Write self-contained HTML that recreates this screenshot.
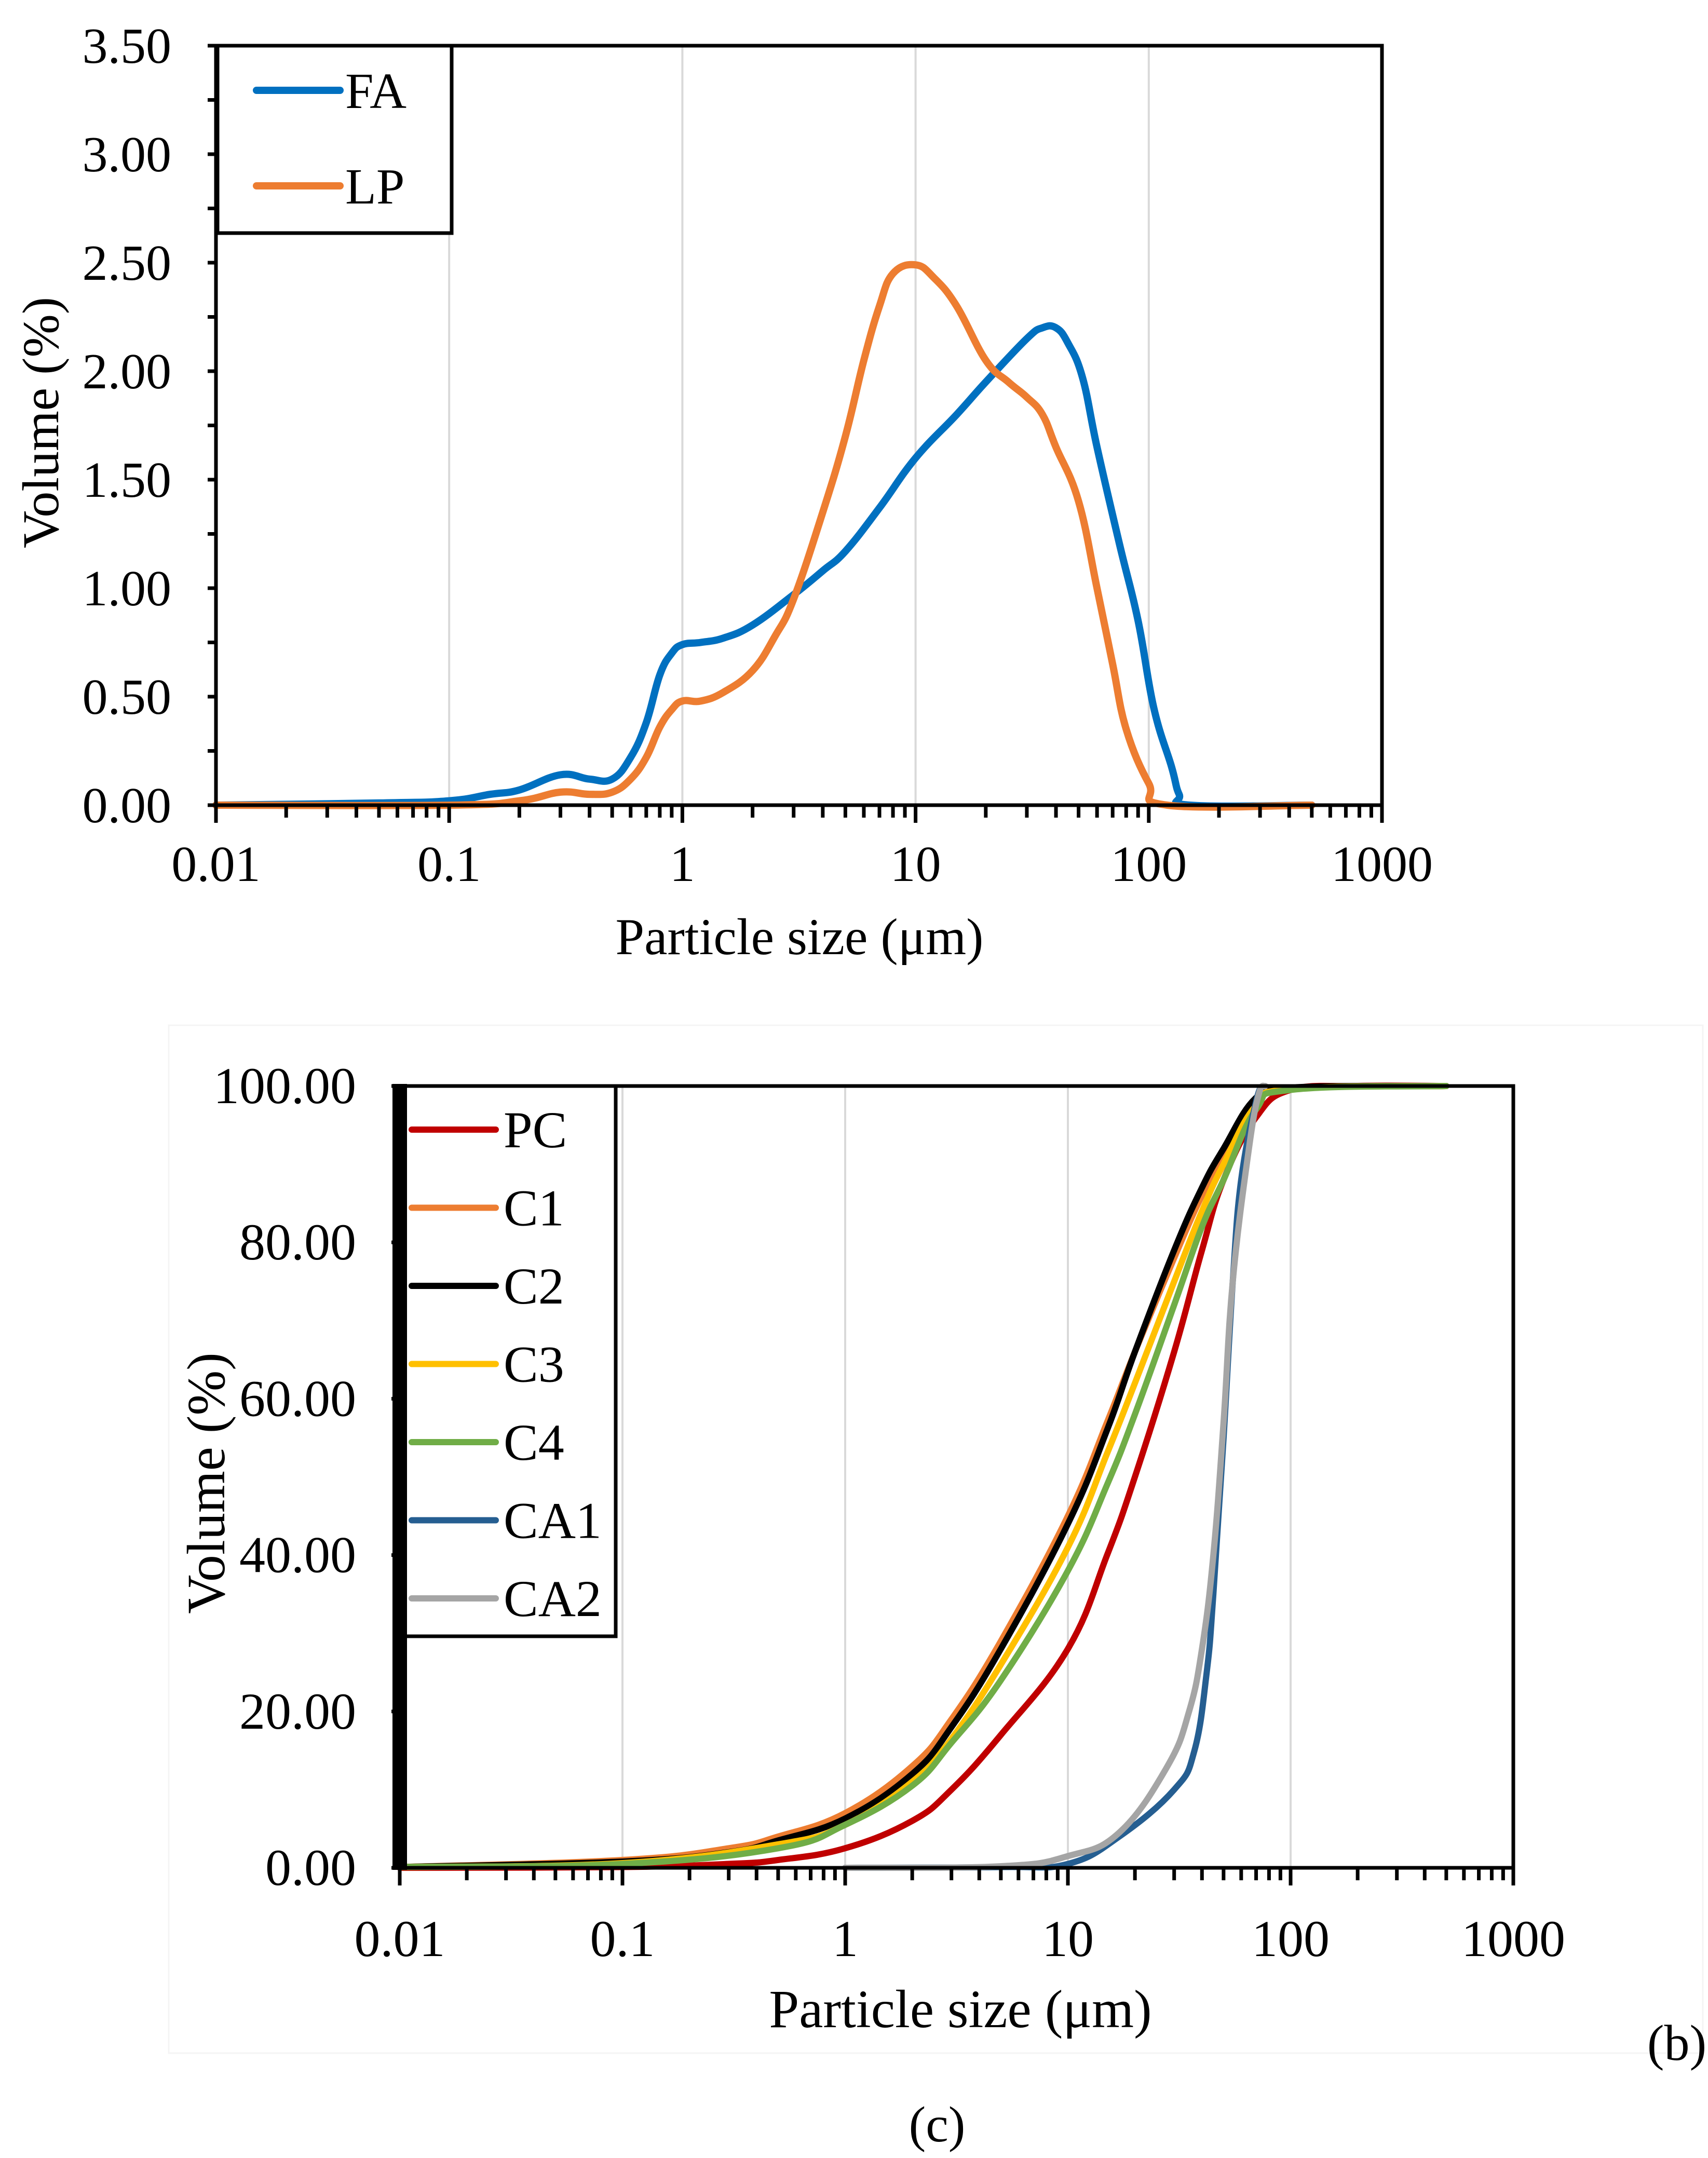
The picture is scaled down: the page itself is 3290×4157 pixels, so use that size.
<!DOCTYPE html>
<html><head><meta charset="utf-8"><style>
html,body{margin:0;padding:0;background:#fff;}
svg{display:block;font-family:"Liberation Serif",serif;}
</style></head><body>
<svg id="fig" width="3290" height="4157" viewBox="0 0 3290 4157" xmlns="http://www.w3.org/2000/svg">
<rect x="0" y="0" width="3290" height="4157" fill="#fff"/>
<rect x="325" y="1975" width="2955" height="1980" fill="none" stroke="#f4f4f4" stroke-width="3"/>
<g id="top"></g>
<g id="bot"></g>
<text x="3230" y="3968" font-size="98" text-anchor="middle">(b)</text>
<text x="1805" y="4125" font-size="98" text-anchor="middle">(c)</text>
</svg>
<script>
// ---- Top chart data ----
const faX=[0.01,0.05,0.1,0.15,0.2,0.3,0.4,0.5,0.6,0.7,0.8,0.9,1,1.2,1.5,2,3,4,5,7,10,15,20,30,35,40,45,52,60,75,90,105,125,135,150,500];
const faY=[0,0.01,0.02,0.05,0.07,0.14,0.12,0.12,0.22,0.38,0.6,0.7,0.74,0.75,0.77,0.83,0.97,1.08,1.17,1.37,1.6,1.8,1.95,2.15,2.2,2.2,2.13,1.97,1.65,1.2,0.85,0.45,0.18,0.05,0,0];
const lpX=[0.01,0.1,0.2,0.3,0.4,0.5,0.6,0.7,0.8,0.9,1,1.2,1.5,2,2.5,3,4,5,6,7,8,10,12,15,20,25,30,35,40,50,60,70,80,100,120,500];
const lpY=[0,0,0.02,0.06,0.05,0.06,0.12,0.22,0.36,0.44,0.48,0.48,0.52,0.62,0.78,0.95,1.35,1.7,2.05,2.3,2.45,2.49,2.43,2.3,2.05,1.95,1.88,1.8,1.65,1.4,1.0,0.65,0.35,0.1,0,0];
const topYTicks=["0.00","0.50","1.00","1.50","2.00","2.50","3.00","3.50"];
const xTickLabels=["0.01","0.1","1","10","100","1000"];
// ---- Bottom chart data ----
const pcX=[0.01,0.1,0.3,0.5,1,2,3,5,10,15,20,30,40,50,70,100,200,500];
const pcY=[0,0.1,0.5,1.0,2.5,6,10,17,28,40,50,66,79,88,96,99.5,100,100];
const c1X=[0.01,0.1,0.3,0.5,1,2,3,5,10,15,20,30,40,50,70,100,500];
const c1Y=[0.1,1,2.5,4,7,13,19,29,45,57,66,78,86,91,98,99.7,100];
const c2X=[0.01,0.1,0.3,0.5,1,2,3,5,10,15,20,30,40,50,70,100,500];
const c2Y=[0.1,0.8,2,3.5,6.3,12,18,28,44,56,66,79,87,92,98.5,99.8,100];
const c3X=[0.01,0.1,0.5,1,2,3,5,10,15,20,30,40,50,70,100,500];
const c3Y=[0.1,0.6,3,5.5,11,16.5,26,41,53,62,75,84,90,97.5,99.6,100];
const c4X=[0.01,0.1,0.5,1,2,3,5,10,15,20,30,40,50,70,100,500];
const c4Y=[0.1,0.5,2.5,5.5,10.5,16,24,38,49,58,72,82,88,97,99.5,100];
const ca1X=[1,5,10,17,30,37,42,45,50,55,60,70,75];
const ca1Y=[0,0.1,0.5,4,10,15,25,35,55,75,88,98,100];
const ca2X=[1,5,10,17,28,35,40,45,50,55,65,72,77];
const ca2Y=[0,0.2,1.5,4.5,13,20,28,40,57,75,92,99,100];
const botYTicks=["0.00","20.00","40.00","60.00","80.00","100.00"];

const NS="http://www.w3.org/2000/svg";
function mk(parent,tag,attrs,txt){const e=document.createElementNS(NS,tag);for(const k in attrs)e.setAttribute(k,attrs[k]);if(txt!==undefined)e.textContent=txt;parent.appendChild(e);return e;}
function smooth(pts){
  let d='M'+pts[0][0].toFixed(1)+','+pts[0][1].toFixed(1);
  for(let i=0;i<pts.length-1;i++){
    const p0=pts[i-1]||pts[i],p1=pts[i],p2=pts[i+1],p3=pts[i+2]||p2;
    const t=0.2;
    const c1=[p1[0]+(p2[0]-p0[0])*t,p1[1]+(p2[1]-p0[1])*t];
    const c2=[p2[0]-(p3[0]-p1[0])*t,p2[1]-(p3[1]-p1[1])*t];
    d+=` C${c1[0].toFixed(1)},${c1[1].toFixed(1)} ${c2[0].toFixed(1)},${c2[1].toFixed(1)} ${p2[0].toFixed(1)},${p2[1].toFixed(1)}`;
  }
  return d;
}

function chart(g,o){
  const sx=v=>o.x0+(Math.log10(v)+2)/5*(o.x1-o.x0);
  const sy=v=>o.y0-(v/o.ymax)*(o.y0-o.y1);
  for(let d=-1;d<=2;d++){const x=sx(Math.pow(10,d));
    const l=mk(g,'line',{x1:x,x2:x,y1:o.y1,y2:o.y0,stroke:'#d9d9d9','stroke-width':4});
    
    }
  o.series.forEach(s=>{
    const pts=s.x.map((v,i)=>[sx(v),sy(s.y[i])]);
    const pl=mk(g,'path',{d:smooth(pts),fill:'none',stroke:s.c,'stroke-width':o.lw,'stroke-linejoin':'round','stroke-linecap':'round'});
    
    
  });
  const fr=mk(g,'rect',{x:o.x0,y:o.y1,width:o.x1-o.x0,height:o.y0-o.y1,fill:'none',stroke:'#000','stroke-width':7});
  
  
  for(let d=-2;d<=2;d++){for(let m=1;m<=9;m++){const x=sx(m*Math.pow(10,d));
    mk(g,'line',{x1:x,x2:x,y1:o.y0,y2:o.y0+(m===1?34:24),stroke:'#000','stroke-width':7});}}
  mk(g,'line',{x1:o.x1,x2:o.x1,y1:o.y0,y2:o.y0+34,stroke:'#000','stroke-width':7});
  xTickLabels.forEach((t,i)=>{const tx=mk(g,'text',{x:o.x0+i*(o.x1-o.x0)/5,y:o.xly,'font-size':o.fs,'text-anchor':'middle'},t);
    
    });
  o.yt.forEach((t,i)=>{const v=parseFloat(t);const y=sy(v);
    mk(g,'line',{x1:o.x0-16,x2:o.x0,y1:y,y2:y,stroke:'#000','stroke-width':7});
    if(o.minor){mk(g,'line',{x1:o.x0-16,x2:o.x0,y1:sy(v+o.minor),y2:sy(v+o.minor),stroke:'#000','stroke-width':7});}
    const tx=mk(g,'text',{x:o.ylx,y:y+33,'font-size':o.fs,'text-anchor':'end'},t);
    
    });
  const xt=mk(g,'text',{x:o.xtx,y:o.xty,'font-size':o.tfs,'text-anchor':'middle'},'Particle size (μm)');
  
  
  const yt=mk(g,'text',{x:0,y:0,'font-size':o.tfs,'text-anchor':'middle',transform:`translate(${o.ytx},${o.yty}) rotate(-90)`},'Volume (%)');
  
  
  const lg=mk(g,'g',{});
  
  
  mk(lg,'rect',{x:o.lg.x,y:o.lg.y,width:o.lg.w,height:o.lg.h,fill:'#fff',stroke:'#000','stroke-width':7});
  o.series.forEach((s,i)=>{const y=o.lg.ey0+i*o.lg.dy;
    const e=mk(lg,'g',{});
    
    
    mk(e,'line',{x1:o.lg.lx1,x2:o.lg.lx2,y1:y,y2:y,stroke:s.c,'stroke-width':o.lw,'stroke-linecap':'round'});
    mk(e,'text',{x:o.lg.tx,y:y+34,'font-size':o.lfs},s.n);});
  if(o.thickLeft){const tl=mk(g,'line',{x1:o.x0,x2:o.x0,y1:o.y1-4,y2:o.y0+4,stroke:'#000','stroke-width':28});
    
    }
}

chart(document.getElementById('top'),{x0:416,x1:2662,y0:1551,y1:88,ymax:3.5,lw:14,fs:98,tfs:100,lfs:98,
  xly:1697,ylx:330,xtx:1540,xty:1838,ytx:112,yty:814,yt:topYTicks,minor:0.25,
  series:[{n:'FA',c:'#0070c0',x:faX,y:faY},{n:'LP',c:'#ed7d31',x:lpX,y:lpY}],
  lg:{x:419,y:88,w:451,h:361,ey0:174,dy:184,lx1:494,lx2:655,tx:665}});

chart(document.getElementById('bot'),{x0:770,x1:2915,y0:3598,y1:2092,ymax:100,lw:12,fs:100,tfs:104,lfs:100,thickLeft:true,
  xly:3768,ylx:686,xtx:1850,xty:3905,ytx:432,yty:2857,yt:botYTicks,minor:0,
  series:[{n:'PC',c:'#c00000',x:pcX,y:pcY},{n:'C1',c:'#ed7d31',x:c1X,y:c1Y},{n:'C2',c:'#000000',x:c2X,y:c2Y},{n:'C3',c:'#ffc000',x:c3X,y:c3Y},{n:'C4',c:'#70ad47',x:c4X,y:c4Y},{n:'CA1',c:'#255e91',x:ca1X,y:ca1Y},{n:'CA2',c:'#a5a5a5',x:ca2X,y:ca2Y}],
  lg:{x:772,y:2092,w:414,h:1060,ey0:2176,dy:150.5,lx1:793,lx2:955,tx:970}});
</script>
</body></html>
